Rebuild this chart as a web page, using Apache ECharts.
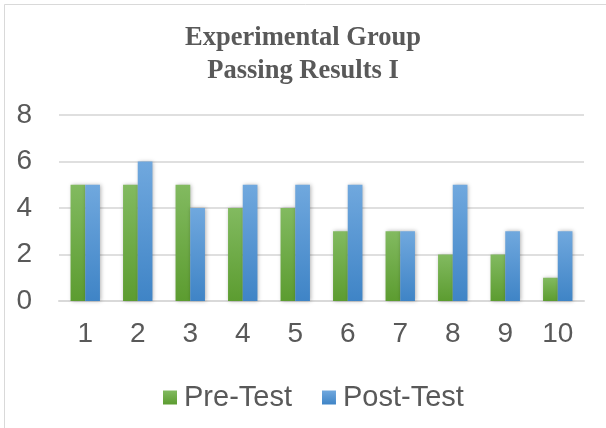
<!DOCTYPE html>
<html>
<head>
<meta charset="utf-8">
<script src="https://cdn.jsdelivr.net/npm/echarts@6/dist/echarts.min.js"></script>
<style>html,body{margin:0;padding:0;background:#fff;}#c{width:606px;height:428px;}</style>
</head>
<body>
<div id="c"></div>
<script>
var categories = ['1','2','3','4','5','6','7','8','9','10'];
var preTest = [5,5,5,4,4,3,3,2,2,1];
var postTest = [5,6,4,5,5,5,3,5,3,3];
var seriesNames = ['Pre-Test','Post-Test'];
var titleText = 'Experimental Group\nPassing Results I';

function grad(top, bottom){
  return new echarts.graphic.LinearGradient(0,0,0,1,[{offset:0,color:top},{offset:1,color:bottom}]);
}
var chart = echarts.init(document.getElementById('c'), null, {renderer:'canvas'});
var txt = '#595959';
chart.setOption({
  animation:false,
  backgroundColor:'#fff',
  graphic:[{type:'rect',shape:{x:4.5,y:4.5,width:700,height:500},style:{fill:'none',stroke:'#d9d9d9',lineWidth:1},silent:true,z:-1}],
  title:{text:titleText,left:'center',top:17,textStyle:{fontFamily:'"Liberation Serif","Times New Roman",serif',fontWeight:'bold',fontSize:26.5,color:txt,lineHeight:32.5}},
  grid:{left:59,right:22,top:115,bottom:127,containLabel:false},
  legend:{data:seriesNames,left:158,top:378,itemWidth:14,itemHeight:14,itemGap:30,
    textStyle:{fontFamily:'"Liberation Sans",Arial,sans-serif',fontSize:29,color:txt,padding:[0,0,0,2]},icon:'rect'},
  xAxis:{type:'category',data:categories,
    axisLine:{lineStyle:{color:'#d9d9d9',width:2}},axisTick:{show:false},
    axisLabel:{fontFamily:'"Liberation Sans",Arial,sans-serif',fontSize:28,color:txt,margin:19}},
  yAxis:{type:'value',min:0,max:8,interval:2,
    axisLine:{show:false},axisTick:{show:false},
    splitLine:{lineStyle:{color:'#d4d4d4',width:1.5}},
    axisLabel:{fontFamily:'"Liberation Sans",Arial,sans-serif',fontSize:28,color:txt,margin:27}},
  series:[
    {name:seriesNames[0],type:'bar',data:preTest,barGap:'0%',barCategoryGap:'44%',
      itemStyle:{color:grad('#82ba60','#5c9c30'),shadowBlur:4,shadowColor:'rgba(0,0,0,0.3)',shadowOffsetX:1,shadowOffsetY:0}},
    {name:seriesNames[1],type:'bar',data:postTest,barGap:'0%',barCategoryGap:'44%',
      itemStyle:{color:grad('#70a8de','#3f84c6'),shadowBlur:4,shadowColor:'rgba(0,0,0,0.3)',shadowOffsetX:1,shadowOffsetY:0}}
  ]
});
</script>
</body>
</html>
